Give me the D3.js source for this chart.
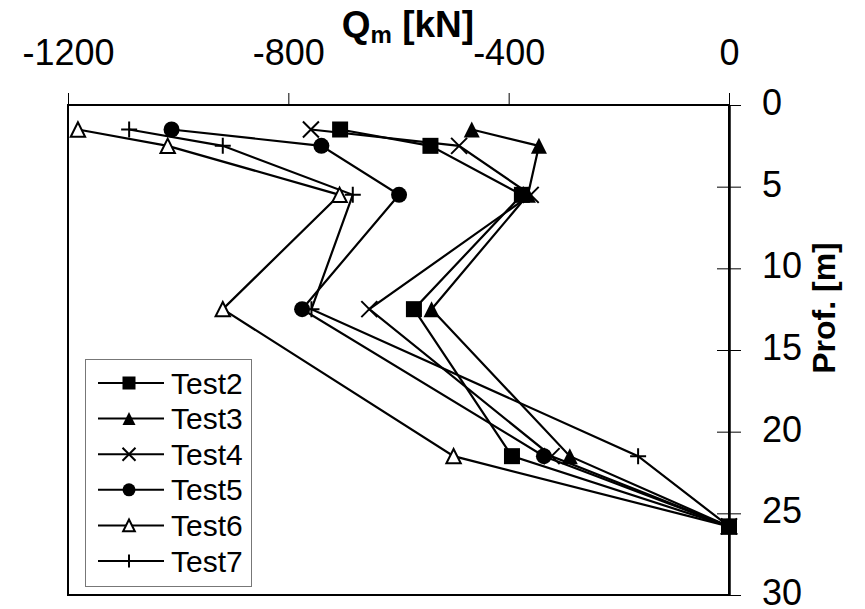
<!DOCTYPE html>
<html>
<head>
<meta charset="utf-8">
<script src="https://cdn.jsdelivr.net/npm/d3@7"></script>
<style>
  body { margin: 0; background: #fff; }
  svg { font-family: "Liberation Sans", Arial, sans-serif; }
</style>
</head>
<body>
<svg id="chart" width="865" height="609"></svg>
<script>
// depths of the measurement levels [m]
var depths = [1.5, 2.5, 5.5, 12.5, 21.5, 25.8];
// Qm [kN] per test, one value per depth
var test2 = [-706, -542, -376, -572, -394, 0];
var test3 = [-467, -345, -365, -540, -289, 0];
var test4 = [-759, -490, -360, -653, -322, 0];
var test5 = [-1012, -740, -599, -775, -336, 0];
var test6 = [-1182, -1019, -707, -919, -500, 0];
var test7 = [-1089, -919, -683, -758, -165, 0];
var seriesNames = ["Test2", "Test3", "Test4", "Test5", "Test6", "Test7"];
var xTicks = [-1200, -800, -400, 0];
var yTicks = [0, 5, 10, 15, 20, 25, 30];

var series = [
  { name: seriesNames[0], values: test2, marker: "square" },
  { name: seriesNames[1], values: test3, marker: "triangle" },
  { name: seriesNames[2], values: test4, marker: "cross" },
  { name: seriesNames[3], values: test5, marker: "circle" },
  { name: seriesNames[4], values: test6, marker: "opentriangle" },
  { name: seriesNames[5], values: test7, marker: "plus" }
];

// note: "top" is taken by window.top, hence the plot* names
var plotLeft = 68, plotRight = 729, plotTop = 105, plotBottom = 595;

var svg = d3.select("#chart");
var x = d3.scaleLinear().domain([-1200, 0]).range([plotLeft, plotRight]);
var y = d3.scaleLinear().domain([0, 30]).range([plotTop, plotBottom]);

// plain "-1200", no thousands comma or unicode minus
var plain = function(d) { return String(d); };

// frame
svg.append("rect")
  .attr("x", plotLeft).attr("y", plotTop)
  .attr("width", plotRight - plotLeft).attr("height", plotBottom - plotTop)
  .attr("fill", "none").attr("stroke", "#000").attr("stroke-width", 2);

// top axis
var gx = svg.append("g")
  .attr("transform", "translate(0," + plotTop + ")")
  .call(d3.axisTop(x).tickValues(xTicks).tickFormat(plain)
    .tickSizeInner(12).tickSizeOuter(0).tickPadding(28));
gx.select(".domain").remove();
gx.selectAll("line").attr("stroke", "#000");
gx.selectAll("text").attr("font-size", 36).attr("font-family", null).attr("fill", "#000");

// right axis, ticks cross the line
var gy = svg.append("g")
  .attr("transform", "translate(" + plotRight + ",0)")
  .call(d3.axisRight(y).tickValues(yTicks).tickFormat(plain)
    .tickSizeInner(12).tickSizeOuter(0).tickPadding(21));
gy.select(".domain").attr("stroke", "#000").attr("stroke-width", 2.5);
gy.selectAll(".tick line").attr("x1", -12).attr("stroke", "#000");
gy.selectAll("text").attr("font-size", 36).attr("font-family", null).attr("fill", "#000")
  .attr("dy", "0.26em");

// axis titles
var title = svg.append("text")
  .attr("x", 408).attr("y", 37)
  .attr("text-anchor", "middle")
  .attr("font-weight", "bold").attr("font-size", 37);
title.append("tspan").text("Q");
title.append("tspan").attr("font-size", 24).attr("dy", 6).text("m");
title.append("tspan").attr("dy", -6).text(" [kN]");

svg.append("text")
  .attr("transform", "translate(835,308) rotate(-90)")
  .attr("text-anchor", "middle")
  .attr("font-weight", "bold").attr("font-size", 32)
  .text("Prof. [m]");

// markers
function drawMarker(g, type, s) {
  var h = s / 2;
  if (type === "square") {
    g.append("rect").attr("x", -h).attr("y", -h).attr("width", s).attr("height", s).attr("fill", "#000");
  } else if (type === "circle") {
    g.append("circle").attr("r", h).attr("fill", "#000");
  } else if (type === "triangle" || type === "opentriangle") {
    var open = type === "opentriangle";
    var hh = open ? h * 0.9 : h;
    g.append("path")
      .attr("d", "M0," + (-hh) + "L" + hh + "," + hh + "L" + (-hh) + "," + hh + "Z")
      .attr("fill", open ? "#fff" : "#000")
      .attr("stroke", "#000").attr("stroke-width", open ? 2 : 0);
  } else if (type === "cross") {
    g.append("path")
      .attr("d", "M" + (-h) + "," + (-h) + "L" + h + "," + h + "M" + (-h) + "," + h + "L" + h + "," + (-h))
      .attr("stroke", "#000").attr("stroke-width", 2).attr("fill", "none");
  } else if (type === "plus") {
    g.append("path")
      .attr("d", "M" + (-h) + ",0L" + h + ",0M0," + (-h) + "L0," + h)
      .attr("stroke", "#000").attr("stroke-width", 2).attr("fill", "none");
  }
}

var line = d3.line()
  .x(function(d) { return x(d[0]); })
  .y(function(d) { return y(d[1]); });

series.forEach(function(s) {
  var pts = s.values.map(function(v, i) { return [v, depths[i]]; });
  svg.append("path")
    .datum(pts)
    .attr("d", line)
    .attr("fill", "none").attr("stroke", "#000").attr("stroke-width", 2.2);
});
// markers drawn last-series-first so Test2 sits on top, as in the original
series.slice().reverse().forEach(function(s) {
  s.values.forEach(function(v, i) {
    var g = svg.append("g").attr("transform", "translate(" + x(v) + "," + y(depths[i]) + ")");
    drawMarker(g, s.marker, 16);
  });
});

// legend
var legend = svg.append("g");
legend.append("rect")
  .attr("x", 85.5).attr("y", 359.5).attr("width", 166).attr("height", 227)
  .attr("fill", "#fff").attr("stroke", "#777").attr("stroke-width", 1);
series.forEach(function(s, i) {
  var cy = 383 + i * 35.6;
  var g = legend.append("g").attr("transform", "translate(0," + cy + ")");
  g.append("line").attr("x1", 98).attr("x2", 164).attr("stroke", "#000").attr("stroke-width", 2);
  drawMarker(g.append("g").attr("transform", "translate(129,0)"), s.marker, 13);
  g.append("text").attr("x", 171).attr("dy", "0.35em").attr("font-size", 30).text(s.name);
});
</script>
</body>
</html>
